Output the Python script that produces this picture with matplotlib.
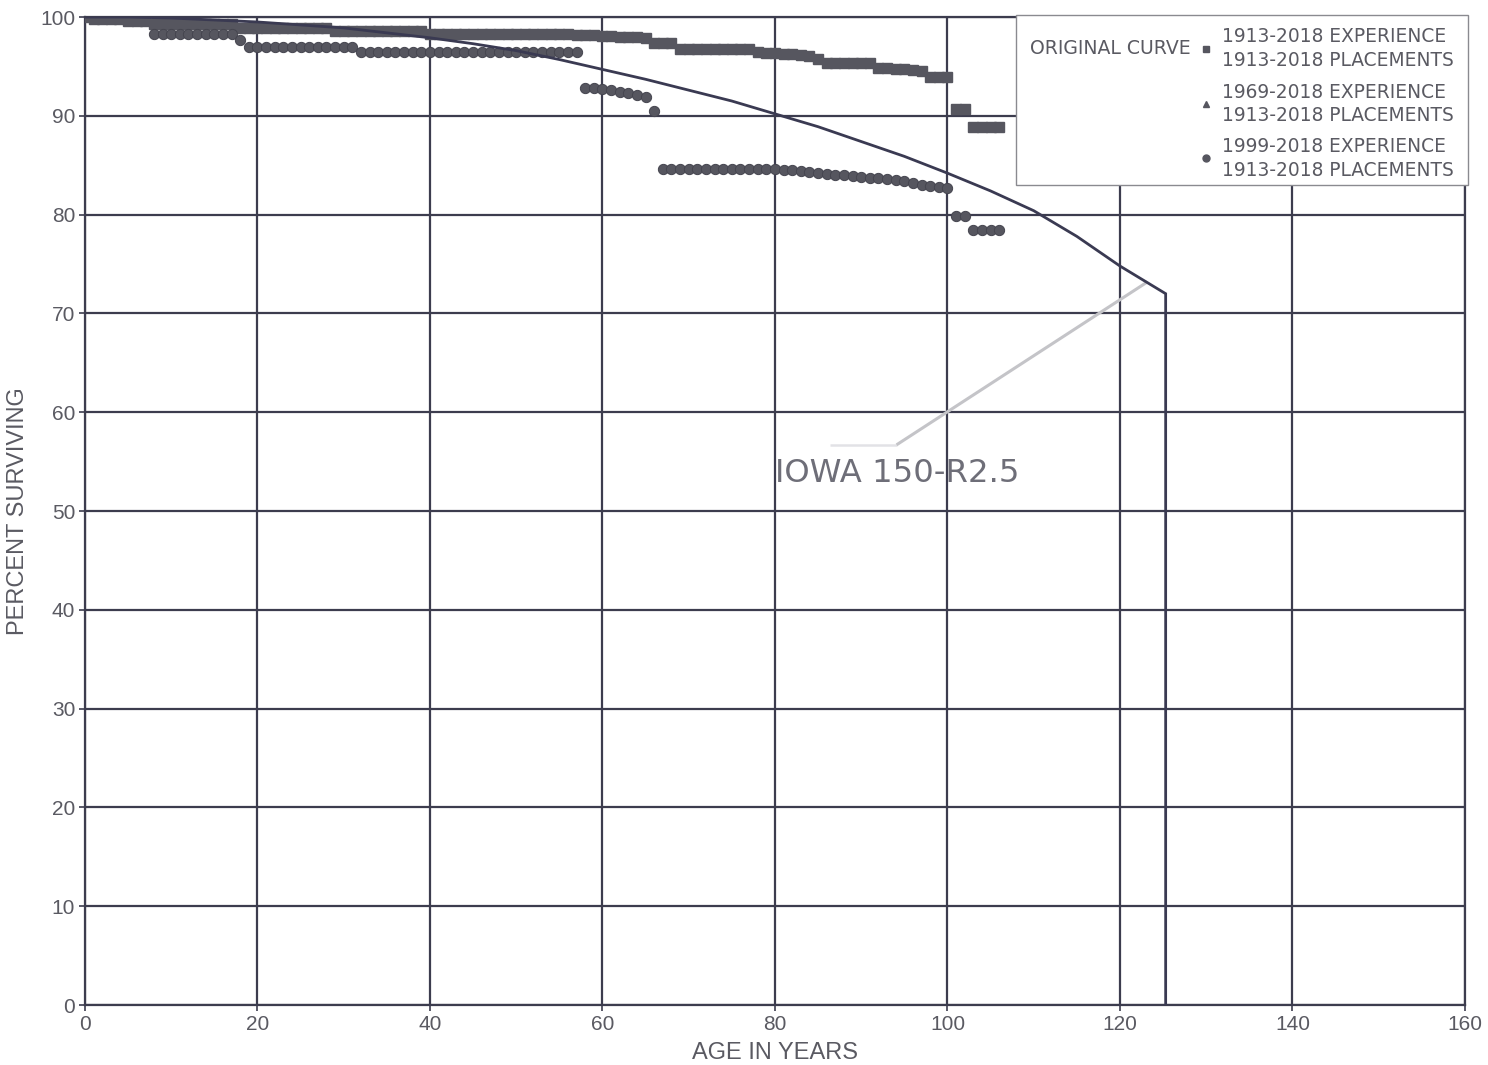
import numpy as np
import matplotlib
matplotlib.use("Agg")
import matplotlib.pyplot as plt
from matplotlib.patches import Rectangle

# ---- data -------------------------------------------------------------
# Iowa 150-R2.5 survivor curve (age in years, percent surviving)
curve_age = [0, 5, 10, 15, 20, 25, 30, 35, 40, 45, 50, 55, 60, 65, 70, 75,
             80, 85, 90, 95, 100, 105, 110, 115, 120, 125.3, 125.3]
curve_pct = [100.0, 100.0, 99.9, 99.7, 99.5, 99.2, 98.9, 98.4, 97.9, 97.3,
             96.6, 95.7, 94.7, 93.7, 92.6, 91.5, 90.2, 88.9, 87.4, 85.9,
             84.2, 82.4, 80.4, 77.8, 74.8, 72.0, 0.0]

# 1913-2018 experience, 1913-2018 placements (squares)
exp1913_age = np.arange(0, 107)
exp1913_pct = [100.0,
               99.8, 99.8, 99.8, 99.8,
               99.6, 99.6, 99.6,
               99.3, 99.3, 99.3, 99.3, 99.3, 99.3, 99.3, 99.3, 99.3, 99.3,
               98.9, 98.9, 98.9, 98.9, 98.9, 98.9, 98.9, 98.9, 98.9, 98.9, 98.9,
               98.6, 98.6, 98.6, 98.6, 98.6, 98.6, 98.6, 98.6, 98.6, 98.6, 98.6,
               98.3, 98.3, 98.3, 98.3, 98.3, 98.3, 98.3, 98.3, 98.3, 98.3,
               98.3, 98.3, 98.3, 98.3, 98.3, 98.3, 98.3,
               98.2, 98.2, 98.2, 98.1, 98.1, 98.0, 98.0, 98.0, 97.9,
               97.4, 97.4, 97.4,
               96.8, 96.8, 96.8, 96.8, 96.8, 96.8, 96.8, 96.8, 96.8,
               96.5, 96.4, 96.4, 96.3, 96.3, 96.2, 96.1,
               95.8,
               95.3, 95.3, 95.3, 95.3, 95.3, 95.3,
               94.8, 94.8, 94.7, 94.7, 94.6, 94.5,
               93.9, 93.9, 93.9,
               90.7, 90.7,
               88.9, 88.9, 88.9, 88.9]

# 1969-2018 experience, 1913-2018 placements (triangles)
exp1969_age = []
exp1969_pct = []

# 1999-2018 experience, 1913-2018 placements (circles)
exp1999_age = np.arange(8, 107)
exp1999_pct = [98.3, 98.3, 98.3, 98.3, 98.3, 98.3, 98.3, 98.3, 98.3, 98.3,
               97.7,
               97.0, 97.0, 97.0, 97.0, 97.0, 97.0, 97.0, 97.0, 97.0, 97.0,
               97.0, 97.0, 97.0,
               96.5, 96.5, 96.5, 96.5, 96.5, 96.5, 96.5, 96.5, 96.5, 96.5,
               96.5, 96.5, 96.5, 96.5, 96.5, 96.5, 96.5, 96.5, 96.5, 96.5,
               96.5, 96.5, 96.5, 96.5, 96.5, 96.5,
               92.8, 92.8, 92.7, 92.6, 92.4, 92.3, 92.1, 91.9,
               90.5,
               84.6, 84.6, 84.6, 84.6, 84.6, 84.6, 84.6, 84.6, 84.6, 84.6,
               84.6, 84.6, 84.6, 84.6,
               84.5, 84.5, 84.4, 84.3, 84.2,
               84.1, 84.0, 84.0, 83.9, 83.8,
               83.7, 83.7, 83.6, 83.5, 83.4,
               83.2, 83.0, 82.9, 82.8, 82.7,
               79.9, 79.9,
               78.4, 78.4, 78.4, 78.4]

x_ticks = [0, 20, 40, 60, 80, 100, 120, 140, 160]
y_ticks = [0, 10, 20, 30, 40, 50, 60, 70, 80, 90, 100]

legend_rows = [("s", "1913-2018 EXPERIENCE\n1913-2018 PLACEMENTS"),
               ("^", "1969-2018 EXPERIENCE\n1913-2018 PLACEMENTS"),
               ("o", "1999-2018 EXPERIENCE\n1913-2018 PLACEMENTS")]

# ---- styling ----------------------------------------------------------
grid_col = "#3c3c4e"
mark_col = "#56565f"
text_col = "#5a5a62"

fig = plt.figure(figsize=(14.88, 10.65), dpi=100)
ax = fig.add_axes([0.0571, 0.0563, 0.9274, 0.9277])
ax.set_xlim(0, 160)
ax.set_ylim(0, 100)

for x in x_ticks:
    ax.axvline(x, color=grid_col, lw=1.6, zorder=1)
for y in y_ticks:
    ax.axhline(y, color=grid_col, lw=1.6, zorder=1)
for s in ax.spines.values():
    s.set_color(grid_col)
    s.set_linewidth(1.6)

ax.set_xticks(x_ticks)
ax.set_yticks(y_ticks)
ax.tick_params(axis="both", colors=grid_col, length=4, width=1.2,
               labelcolor=text_col, labelsize=15, pad=3)
for lab in ax.get_xticklabels() + ax.get_yticklabels():
    lab.set_fontfamily("Liberation Sans")

ax.set_xlabel("AGE IN YEARS", fontsize=17, color=text_col,
              fontfamily="Liberation Sans", labelpad=6)
ax.set_ylabel("PERCENT SURVIVING", fontsize=17, color=text_col,
              fontfamily="Liberation Sans", labelpad=8)

# observed life tables
ax.plot(exp1913_age, exp1913_pct, ls="none", marker="s", ms=6.8,
        mfc=mark_col, mec=mark_col, zorder=3)
ax.plot(exp1969_age, exp1969_pct, ls="none", marker="^", ms=6,
        mfc=mark_col, mec=mark_col, zorder=3)
ax.plot(exp1999_age, exp1999_pct, ls="none", marker="o", ms=7.4,
        mfc=mark_col, mec="#45454f", mew=0.7, zorder=3)

# fitted Iowa curve
ax.plot(curve_age, curve_pct, color="#3a3a52", lw=2.0, zorder=4,
        solid_joinstyle="miter")

# curve label with leader line
ax.plot([86.4, 94.1], [56.7, 56.7], color="#e2e2e6", lw=1.8, zorder=2,
        solid_capstyle="butt")
ax.plot([94.1, 123.2], [56.7, 73.2], color="#c4c4c8", lw=2.2, zorder=2,
        solid_capstyle="butt")
ax.text(80.0, 52.9, "IOWA 150-R2.5", fontsize=23.2, color="#6e6e78",
        fontfamily="DejaVu Sans", ha="left", va="baseline", zorder=5)

# legend box
tr = ax.transAxes
ax.add_patch(Rectangle((0.675, 0.830), 0.327, 0.172, transform=tr,
                       facecolor="white", edgecolor="#8a8a90", lw=1.0,
                       zorder=6, clip_on=False))
ax.text(0.685, 0.968, "ORIGINAL CURVE", transform=tr, fontsize=13.6,
        color=text_col, ha="left", va="center", zorder=7,
        fontfamily="DejaVu Sans")
row_y = [0.968, 0.912, 0.857]
for (mk, label), yy in zip(legend_rows, row_y):
    ax.plot([0.812], [yy], transform=tr, marker=mk, ms=5, ls="none",
            mfc=mark_col, mec=mark_col, zorder=7, clip_on=False)
    ax.text(0.824, yy, label, transform=tr, fontsize=13.4, color=text_col,
            ha="left", va="center", zorder=7, linespacing=1.32,
            fontfamily="DejaVu Sans")

fig.savefig("out.png", dpi=100, facecolor="white")
